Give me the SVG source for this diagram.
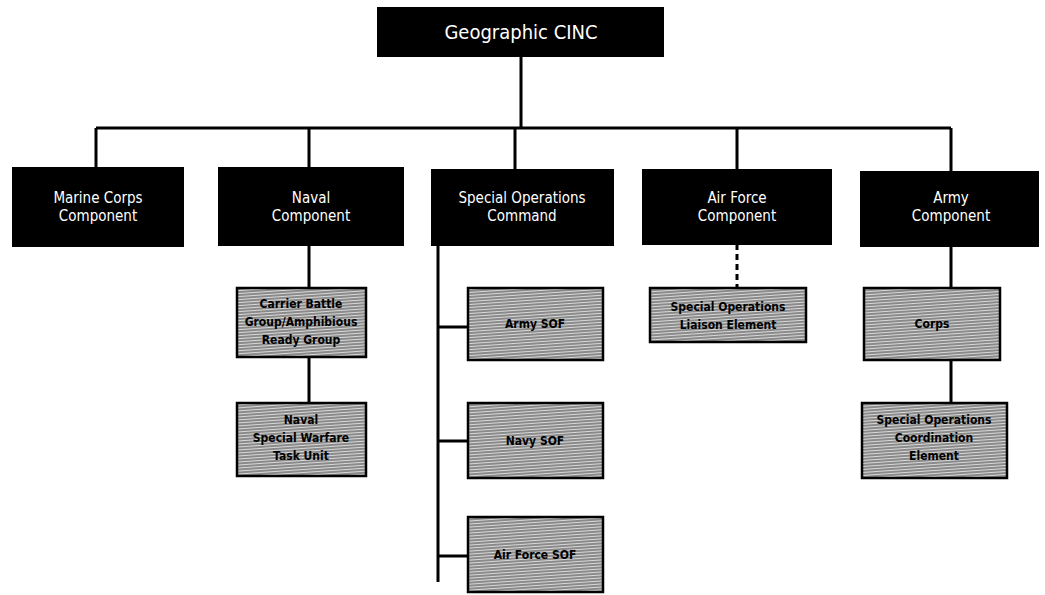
<svg xmlns="http://www.w3.org/2000/svg" width="1045" height="595" viewBox="0 0 1045 595">
<defs>
<pattern id="hatch" width="6" height="3" patternUnits="userSpaceOnUse" patternTransform="rotate(-4)">
<rect width="6" height="3" fill="#8a8a8a"/>
<rect width="6" height="1" fill="#d8d8d8"/>
</pattern>
</defs>
<style>
.blk{fill:#000;stroke:#000;stroke-width:2}
.gry{fill:url(#hatch);stroke:#000;stroke-width:2.5}
.wt{fill:#fff;font-family:"DejaVu Sans Condensed","DejaVu Sans",sans-serif;font-size:15px;text-anchor:middle}
.big{font-size:20px}
.bt{fill:#000;font-family:"DejaVu Sans Condensed","DejaVu Sans",sans-serif;font-size:12px;font-weight:bold;text-anchor:middle}
.ln{stroke:#000;stroke-width:3;fill:none}
</style>
<rect width="1045" height="595" fill="#fff"/>
<g id="connectors">
<path class="ln" d="M521 56V128M96 128H951M96 128V168M309 128V168M515 128V170M737 128V170M951 128V172"/>
<path class="ln" d="M309 245V288M309 357V403"/>
<path class="ln" d="M438 245V582M438 327H468M438 441H468M438 556H468"/>
<path class="ln" d="M737 244V288" stroke-dasharray="6,4" stroke-width="4"/>
<path class="ln" d="M951 246V288M951 360V403"/>
</g>
<g id="cinc"><rect class="blk" x="378" y="8" width="285" height="48"/><text class="wt big" x="521" y="39">Geographic CINC</text></g>
<g id="marine"><rect class="blk" x="13" y="168" width="170" height="78"/><text class="wt" x="98" y="203">Marine Corps</text><text class="wt" x="98" y="221">Component</text></g>
<g id="naval"><rect class="blk" x="219" y="168" width="184" height="77"/><text class="wt" x="311" y="203">Naval</text><text class="wt" x="311" y="221">Component</text></g>
<g id="soc"><rect class="blk" x="432" y="170" width="181" height="75"/><text class="wt" x="522" y="203">Special Operations</text><text class="wt" x="522" y="221">Command</text></g>
<g id="airforce"><rect class="blk" x="643" y="170" width="188" height="74"/><text class="wt" x="737" y="203">Air Force</text><text class="wt" x="737" y="221">Component</text></g>
<g id="army"><rect class="blk" x="861" y="172" width="177" height="74"/><text class="wt" x="951" y="203">Army</text><text class="wt" x="951" y="221">Component</text></g>
<g id="cvbg"><rect class="gry" x="237" y="288" width="129" height="69"/><text class="bt" x="301" y="308">Carrier Battle</text><text class="bt" x="301" y="326">Group/Amphibious</text><text class="bt" x="301" y="344">Ready Group</text></g>
<g id="nswtu"><rect class="gry" x="237" y="403" width="129" height="73"/><text class="bt" x="301" y="424">Naval</text><text class="bt" x="301" y="442">Special Warfare</text><text class="bt" x="301" y="460">Task Unit</text></g>
<g id="armysof"><rect class="gry" x="468" y="288" width="135" height="72"/><text class="bt" x="535" y="328">Army SOF</text></g>
<g id="navysof"><rect class="gry" x="468" y="403" width="135" height="75"/><text class="bt" x="535" y="445">Navy SOF</text></g>
<g id="afsof"><rect class="gry" x="468" y="517" width="135" height="75"/><text class="bt" x="535" y="559">Air Force SOF</text></g>
<g id="sole"><rect class="gry" x="650" y="288" width="156" height="54"/><text class="bt" x="728" y="311">Special Operations</text><text class="bt" x="728" y="329">Liaison Element</text></g>
<g id="corps"><rect class="gry" x="864" y="288" width="136" height="72"/><text class="bt" x="932" y="328">Corps</text></g>
<g id="socoord"><rect class="gry" x="862" y="403" width="145" height="75"/><text class="bt" x="934" y="424">Special Operations</text><text class="bt" x="934" y="442">Coordination</text><text class="bt" x="934" y="460">Element</text></g>
</svg>
